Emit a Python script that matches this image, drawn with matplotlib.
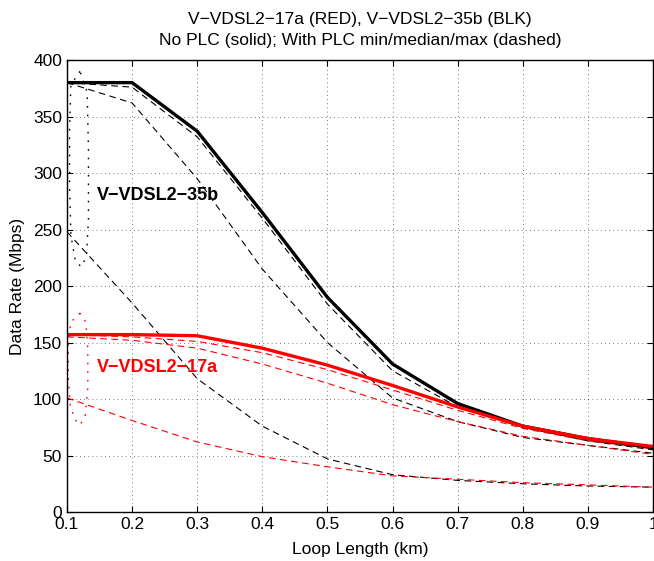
import matplotlib
matplotlib.use("Agg")
import matplotlib.pyplot as plt

plt.rcParams['font.family'] = ['Liberation Sans', 'DejaVu Sans']

loop_km = [0.1, 0.2, 0.3, 0.4, 0.5, 0.6, 0.7, 0.8, 0.9, 1.0]

blk_noplc = [380, 380, 337, 265, 190, 131, 96, 76, 65, 57]
blk_max = [380, 376, 332, 260, 184, 125, 93, 75, 63, 55]
blk_med = [380, 362, 295, 215, 150, 101, 80, 66, 59, 52]
blk_min = [248, 185, 118, 76, 47, 33, 28, 25, 23, 22]

red_noplc = [157, 157, 156, 145, 130, 112, 93, 76, 65, 58]
red_max = [157, 155, 151, 141, 126, 108, 90, 74, 63, 56]
red_med = [155, 152, 145, 131, 114, 95, 80, 67, 59, 51]
red_min = [101, 81, 62, 49, 40, 32, 29, 26, 24, 22]

# dotted loops near the start of the loop-length axis
blk_loop_x = [0.120, 0.106, 0.104, 0.104, 0.106, 0.113, 0.122, 0.130, 0.133, 0.133, 0.131, 0.120]
blk_loop_y = [390, 378, 340, 290, 245, 222, 217, 226, 260, 320, 372, 390]
red_loop_x = [0.120, 0.106, 0.102, 0.102, 0.105, 0.112, 0.120, 0.128, 0.132, 0.132, 0.129, 0.120]
red_loop_y = [176, 168, 150, 120, 95, 82, 77, 85, 110, 145, 168, 176]

xticks = [0.1, 0.2, 0.3, 0.4, 0.5, 0.6, 0.7, 0.8, 0.9, 1.0]
xticklabels = ['0.1', '0.2', '0.3', '0.4', '0.5', '0.6', '0.7', '0.8', '0.9', '1']
yticks = [0, 50, 100, 150, 200, 250, 300, 350, 400]

fig = plt.figure(figsize=(6.54, 5.61), dpi=100)
ax = fig.add_axes([0.1024, 0.0873, 0.8961, 0.8057])

dash = (0, (6, 4))
dot = (0, (1.2, 5))

ax.plot(blk_loop_x, blk_loop_y, color='black', lw=1.0, linestyle=dot)
ax.plot(red_loop_x, red_loop_y, color='red', lw=1.0, linestyle=dot)

for s in (blk_max, blk_med, blk_min):
    ax.plot(loop_km, s, color='black', lw=0.8, linestyle=dash)
for s in (red_max, red_med, red_min):
    ax.plot(loop_km, s, color='red', lw=0.8, linestyle=dash)

ax.plot(loop_km, blk_noplc, color='black', lw=2.4, solid_joinstyle='miter')
ax.plot(loop_km, red_noplc, color='red', lw=2.4, solid_joinstyle='miter')

ax.text(0.146, 280, 'V\u2212VDSL2\u221235b', color='black', fontsize=13,
        fontweight='bold', va='center', ha='left')
ax.text(0.146, 128, 'V\u2212VDSL2\u221217a', color='red', fontsize=13,
        fontweight='bold', va='center', ha='left')

ax.set_xlim(0.1, 1.0)
ax.set_ylim(0, 400)
ax.set_xticks(xticks)
ax.set_xticklabels(xticklabels)
ax.set_yticks(yticks)
ax.tick_params(direction='in', top=True, right=True, labelsize=12.5, length=4, width=0.8, pad=3.5)
ax.grid(True, color='black', linestyle=(0, (1, 4)), linewidth=0.6, alpha=0.7)
for sp in ax.spines.values():
    sp.set_linewidth(1.0)

ax.set_xlabel('Loop Length (km)', fontsize=12.5, labelpad=7)
ax.set_ylabel('Data Rate (Mbps)', fontsize=12.5, labelpad=6)
ax.set_title('V\u2212VDSL2\u221217a (RED), V\u2212VDSL2\u221235b (BLK)\nNo PLC (solid); With PLC min/median/max (dashed)',
             fontsize=12.5, pad=11, linespacing=1.5)

fig.savefig('out.png', dpi=100)
